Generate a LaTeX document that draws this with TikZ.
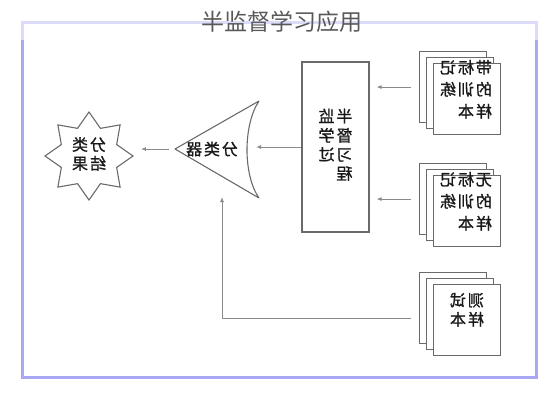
\documentclass[tikz,border=0pt]{standalone}
\usepackage{fontspec}
\usepackage{graphicx}
\newfontfamily\cjk[LetterSpace=12,FakeBold=1.2]{Noto Sans CJK SC}
\newfontfamily\cjktitle{Noto Sans CJK SC}
\usetikzlibrary{shapes.geometric,arrows.meta}
\definecolor{framelight}{HTML}{DCDCF8}
\definecolor{framedark}{HTML}{A8A8F4}
\definecolor{edgegray}{HTML}{6A6A6A}
\definecolor{linegray}{HTML}{8A8A8A}
\begin{document}
\begin{tikzpicture}[x=1pt,y=-1pt,
  page/.style={draw=edgegray,fill=white,line width=1.1pt,minimum width=67pt,minimum height=71pt,inner sep=0pt,anchor=north west},
  lbl/.style={font=\cjk\fontsize{16}{19}\selectfont,text=black!90,inner sep=0pt},
  arr/.style={draw=linegray,line width=0.9pt,-{Latex[length=5pt,width=4pt]}},
]
\useasboundingbox (0,0) rectangle (560,400);
% frame
\draw[framelight,line width=3pt] (22.5,22.5) rectangle (536.5,377.5);
\draw[framedark,line width=3pt] (22.5,40) -- (22.5,377.5) -- (536.5,377.5) -- (536.5,40);
% title
\node[font=\cjktitle\fontsize{23}{23}\selectfont,text=black!65,inner sep=0pt] (title) at (282,22) {半监督学习应用};
% stack 1
\node[page] (a1) at (419,51) {};
\node[page] (a2) at (426,57) {};
\node[page] (a3) at (433,63) {};
\node[lbl,font=\cjk\fontsize{16}{22}\selectfont] (atext) at (466,91) {\reflectbox{\begin{tabular}{@{}l@{}}带标记\\的训练\\样本\end{tabular}}};
% stack 2
\node[page] (b1) at (419,163) {};
\node[page] (b2) at (426,169) {};
\node[page] (b3) at (433,175) {};
\node[lbl,font=\cjk\fontsize{16}{22}\selectfont] (btext) at (466,203) {\reflectbox{\begin{tabular}{@{}l@{}}无标记\\的训练\\样本\end{tabular}}};
% stack 3
\node[page] (c1) at (419,272) {};
\node[page] (c2) at (426,278) {};
\node[page] (c3) at (433,284) {};
\node[lbl] (ctext) at (467,312) {\reflectbox{\begin{tabular}{@{}l@{}}测试\\样本\end{tabular}}};
% semi-supervised box
\node[draw=edgegray,line width=1.1pt,minimum width=67pt,minimum height=170pt,inner sep=0pt,font=\cjk\fontsize{16}{19}\selectfont,text=black!90] (semi) at (335.5,147) {\reflectbox{\begin{tabular}{@{}l@{}}半监\\督学\\习过\\程\end{tabular}}};
% classifier
\coordinate (clsL) at (175,149);
\coordinate (clsT) at (259,101);
\coordinate (clsB) at (259,198);
\coordinate (clsR) at (247,147);
\coordinate (clsBot) at (222,197);
\draw[edgegray,line width=1.1pt,line join=round] (clsL) -- (clsT) .. controls (243,125) and (243,175) .. (clsB) -- cycle;
\node[lbl] (cls) at (212,149) {\reflectbox{分类器}};
% result star
\node[star,star points=8,star point ratio=1.47,minimum size=88pt,inner sep=0pt,draw=edgegray,line width=1.1pt,font=\cjk\fontsize{16}{18}\selectfont,text=black!90] (res) at (89,156) {\reflectbox{\begin{tabular}{@{}l@{}}分类\\结果\end{tabular}}};
% connectors
\draw[arr,shorten <=8pt,shorten >=7pt] (a1.west) -- (semi.east |- a1.west);
\draw[arr,shorten <=8pt,shorten >=7pt] (b1.west) -- (semi.east |- b1.west);
\draw[arr,shorten >=9pt] (semi.west) -- (clsR);
\draw[arr,shorten <=6pt,shorten >=7pt] (clsL) -- (clsL -| res.east);
\coordinate (tin) at (411,318);
\draw[arr] (tin) -| (clsBot);
\end{tikzpicture}
\end{document}
